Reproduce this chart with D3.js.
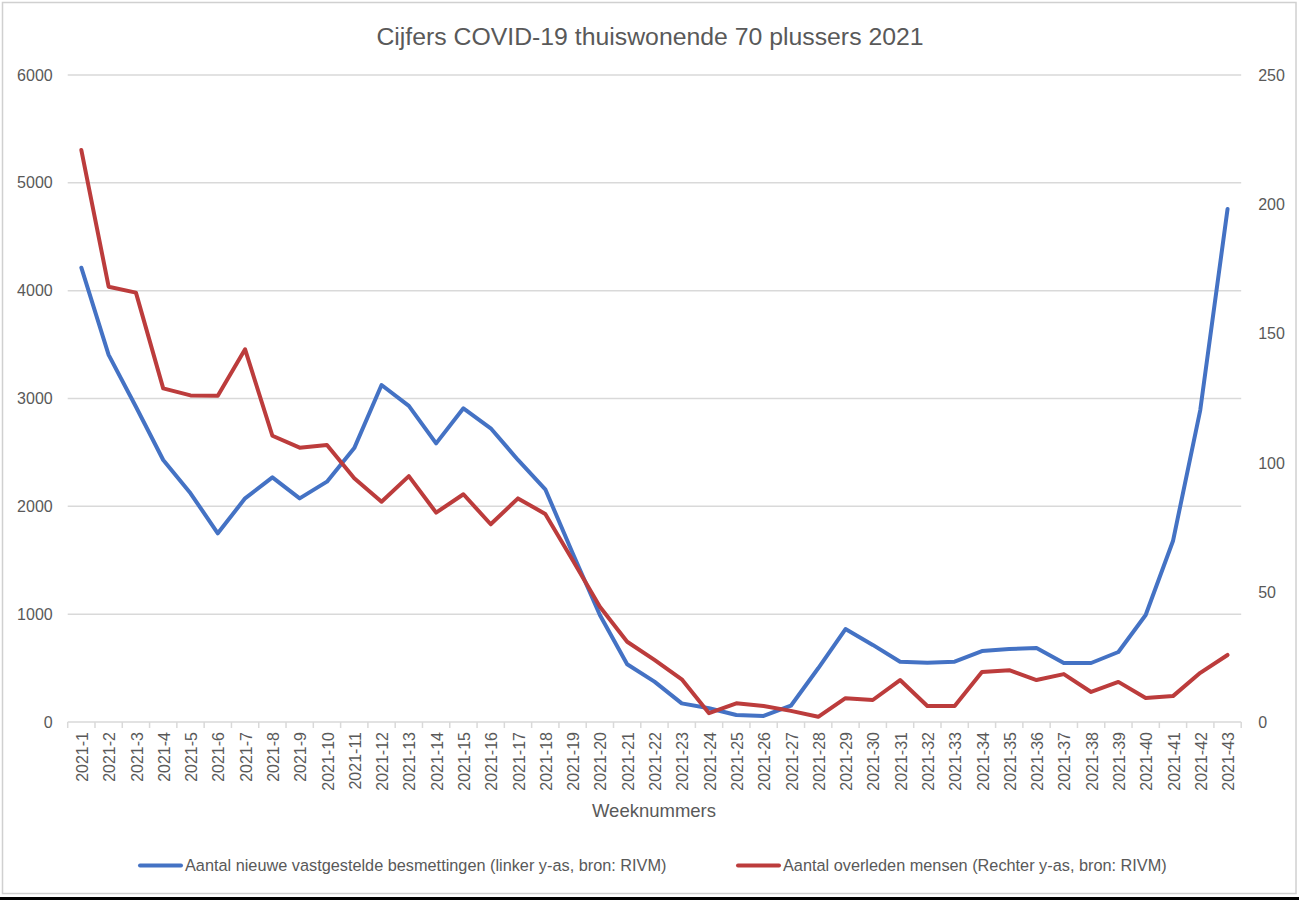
<!DOCTYPE html>
<html>
<head>
<meta charset="utf-8">
<script src="https://cdn.jsdelivr.net/npm/d3@7"></script>
<style>
  html, body { margin: 0; padding: 0; background: #fff; }
  svg { display: block; font-family: "Liberation Sans", Arial, sans-serif; }
</style>
</head>
<body>
<svg id="chart" width="1299" height="902"></svg>
<script>
const title = "Cijfers COVID-19 thuiswonende 70 plussers 2021";
const xTitle = "Weeknummers";
const weeks = d3.range(1, 44).map(i => "2021-" + i);
const infections = [4213, 3404, 2924, 2430, 2121, 1750, 2074, 2269, 2074, 2229,
  2540, 3125, 2932, 2584, 2909, 2724, 2430, 2158, 1567, 992,
  535, 374, 173, 127, 65, 56, 151, 498, 862, 715,
  559, 550, 559, 658, 677, 686, 547, 547, 649, 992,
  1678, 2893, 4757];
const deaths = [221, 168.2, 165.9, 128.9, 126.2, 126.1, 144, 110.6, 106, 107,
  94.2, 85.1, 95, 80.9, 88, 76.4, 86.4, 80.4, 62.6, 44.5,
  31, 24, 16.5, 3.4, 7.2, 6.2, 4.3, 2, 9.2, 8.5,
  16.2, 6.2, 6.2, 19.3, 20, 16.2, 18.5, 11.6, 15.5, 9.3,
  10, 19, 25.9];
const leftTicks = [0, 1000, 2000, 3000, 4000, 5000, 6000];
const rightTicks = [0, 50, 100, 150, 200, 250];
const seriesNames = [
  "Aantal nieuwe vastgestelde besmettingen (linker y-as, bron: RIVM)",
  "Aantal overleden mensen (Rechter y-as, bron: RIVM)"
];
const colors = ["#4472C4", "#BC3C3C"];

const svg = d3.select("#chart");
const textColor = "#595959";
const plot = { left: 67.7, right: 1241.2, top: 75, bottom: 722 };

// outer frame
svg.append("rect").attr("x", 2.5).attr("y", 2.5).attr("width", 1293.5).attr("height", 891)
  .attr("fill", "#fff").attr("stroke", "#d0d0d0").attr("stroke-width", 1.5);
svg.append("rect").attr("x", 0).attr("y", 897).attr("width", 1299).attr("height", 3).attr("fill", "#000");

const x = d3.scaleBand().domain(weeks).range([plot.left, plot.right]);
const yL = d3.scaleLinear().domain([0, 6000]).range([plot.bottom, plot.top]);
const yR = d3.scaleLinear().domain([0, 250]).range([plot.bottom, plot.top]);

// gridlines
svg.append("g").selectAll("line").data(leftTicks.filter(d => d > 0)).join("line")
  .attr("x1", plot.left).attr("x2", plot.right)
  .attr("y1", d => yL(d)).attr("y2", d => yL(d))
  .attr("stroke", "#d9d9d9").attr("stroke-width", 1.5);

// left axis labels
const gL = svg.append("g").attr("transform", `translate(${plot.left},0)`)
  .call(d3.axisLeft(yL).tickValues(leftTicks).tickSize(0).tickPadding(15).tickFormat(d3.format("d")));
gL.select(".domain").remove();
gL.selectAll("text").attr("fill", textColor).attr("font-size", "16px").attr("font-family", "Liberation Sans, Arial, sans-serif");

// right axis labels
const gR = svg.append("g").attr("transform", `translate(${plot.right},0)`)
  .call(d3.axisRight(yR).tickValues(rightTicks).tickSize(0).tickPadding(17).tickFormat(d3.format("d")));
gR.select(".domain").remove();
gR.selectAll("text").attr("fill", textColor).attr("font-size", "16px").attr("font-family", "Liberation Sans, Arial, sans-serif");

// x axis
svg.append("line").attr("x1", plot.left).attr("x2", plot.right)
  .attr("y1", plot.bottom).attr("y2", plot.bottom)
  .attr("stroke", "#d9d9d9").attr("stroke-width", 1.5);
const boundaries = weeks.map(w => x(w)).concat([plot.right]);
svg.append("g").selectAll("line").data(boundaries).join("line")
  .attr("x1", d => d).attr("x2", d => d)
  .attr("y1", plot.bottom).attr("y2", plot.bottom + 6)
  .attr("stroke", "#d9d9d9").attr("stroke-width", 1.5);
svg.append("g").selectAll("text").data(weeks).join("text")
  .attr("transform", d => `translate(${x(d) + x.bandwidth() / 2 + 1},${plot.bottom + 10}) rotate(-90)`)
  .attr("text-anchor", "end").attr("dy", "0.35em")
  .attr("fill", textColor).attr("font-size", "16px")
  .text(d => d);

// x title
svg.append("text").attr("x", 654).attr("y", 817)
  .attr("text-anchor", "middle").attr("fill", textColor).attr("font-size", "18.5px")
  .text(xTitle);

// title
svg.append("text").attr("x", 650).attr("y", 45)
  .attr("text-anchor", "middle").attr("fill", textColor).attr("font-size", "24.8px")
  .text(title);

// lines
const cx = d => x(d) + x.bandwidth() / 2;
const lineL = d3.line().x((d, i) => cx(weeks[i])).y(d => yL(d));
const lineR = d3.line().x((d, i) => cx(weeks[i])).y(d => yR(d));
svg.append("path").datum(infections).attr("d", lineL)
  .attr("fill", "none").attr("stroke", colors[0]).attr("stroke-width", 4)
  .attr("stroke-linejoin", "round").attr("stroke-linecap", "round");
svg.append("path").datum(deaths).attr("d", lineR)
  .attr("fill", "none").attr("stroke", colors[1]).attr("stroke-width", 4)
  .attr("stroke-linejoin", "round").attr("stroke-linecap", "round");

// legend
const legendItems = [
  { name: seriesNames[0], color: colors[0], x: 140 },
  { name: seriesNames[1], color: colors[1], x: 738 }
];
const lg = svg.append("g").selectAll("g").data(legendItems).join("g")
  .attr("transform", d => `translate(${d.x},865.5)`);
lg.append("line").attr("x1", 0).attr("x2", 41).attr("y1", 0).attr("y2", 0)
  .attr("stroke", d => d.color).attr("stroke-width", 4).attr("stroke-linecap", "round");
lg.append("text").attr("x", 45).attr("y", 5.8)
  .attr("fill", textColor).attr("font-size", "16.3px")
  .text(d => d.name);
</script>
</body>
</html>
